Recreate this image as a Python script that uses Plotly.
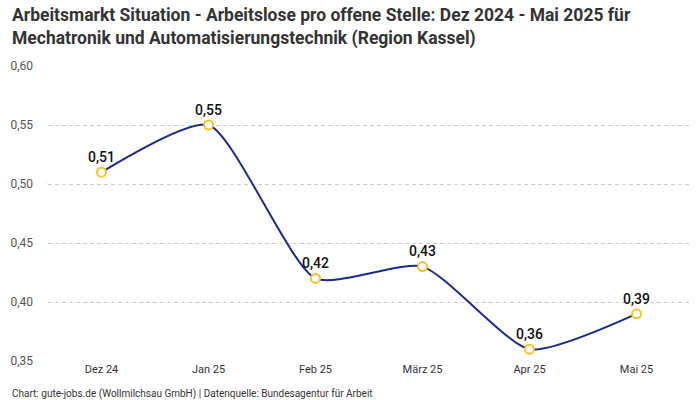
import plotly.graph_objects as go

months = ["Dez 24", "Jan 25", "Feb 25", "März 25", "Apr 25", "Mai 25"]
values = [0.51, 0.55, 0.42, 0.43, 0.36, 0.39]
labels = ["0,51", "0,55", "0,42", "0,43", "0,36", "0,39"]
y_ticks = [0.35, 0.40, 0.45, 0.50, 0.55, 0.60]
y_tick_labels = ["0,35", "0,40", "0,45", "0,50", "0,55", "0,60"]

FONT = "Roboto"

fig = go.Figure()
fig.add_trace(go.Scatter(
    x=months, y=values,
    mode="lines+markers+text",
    line=dict(color="#1b2a8c", width=2, shape="spline", smoothing=0.6),
    marker=dict(symbol="circle", size=9, color="white",
                line=dict(color="#f7c325", width=2)),
    text=labels, textposition="top center",
    textfont=dict(family=FONT, size=14, color="#111", weight=500),
    cliponaxis=False,
    hoverinfo="skip",
))

fig.update_layout(
    width=700, height=400,
    margin=dict(l=48, r=10, t=66, b=39),
    paper_bgcolor="white", plot_bgcolor="white",
    showlegend=False,
    font=dict(family=FONT, color="#333"),
    xaxis=dict(
        type="category", range=[-0.5, 5.5],
        showgrid=False, zeroline=False, showline=False,
        ticks="", tickfont=dict(size=11, color="#333"),
        fixedrange=True,
    ),
    yaxis=dict(
        range=[0.35, 0.60], tickvals=y_ticks, ticktext=y_tick_labels,
        showgrid=True, gridcolor="#cccccc", griddash="4px,3px", gridwidth=1,
        zeroline=False, showline=False, ticks="",
        tickfont=dict(size=12, color="#555"), ticklabelstandoff=14,
        fixedrange=True,
    ),
    annotations=[
        dict(
            text="<b>Arbeitsmarkt Situation - Arbeitslose pro offene Stelle: Dez 2024 - Mai 2025 für<br>Mechatronik und Automatisierungstechnik (Region Kassel)</b>",
            xref="paper", yref="paper", x=-38/642, y=1 + 63/295,
            xanchor="left", yanchor="top", align="left", showarrow=False,
            font=dict(family=FONT, size=17.5, color="#333"),
        ),
        dict(
            text="Chart: gute-jobs.de (Wollmilchsau GmbH) | Datenquelle: Bundesagentur für Arbeit",
            xref="paper", yref="paper", x=-38/642, y=-25/295,
            xanchor="left", yanchor="top", showarrow=False,
            font=dict(family=FONT, size=10, color="#333"),
        ),
    ],
)

fig.write_html(
    "out.html",
    config={"displayModeBar": False},
    post_script="document.body.style.margin='0';document.body.style.overflow='hidden';",
)
